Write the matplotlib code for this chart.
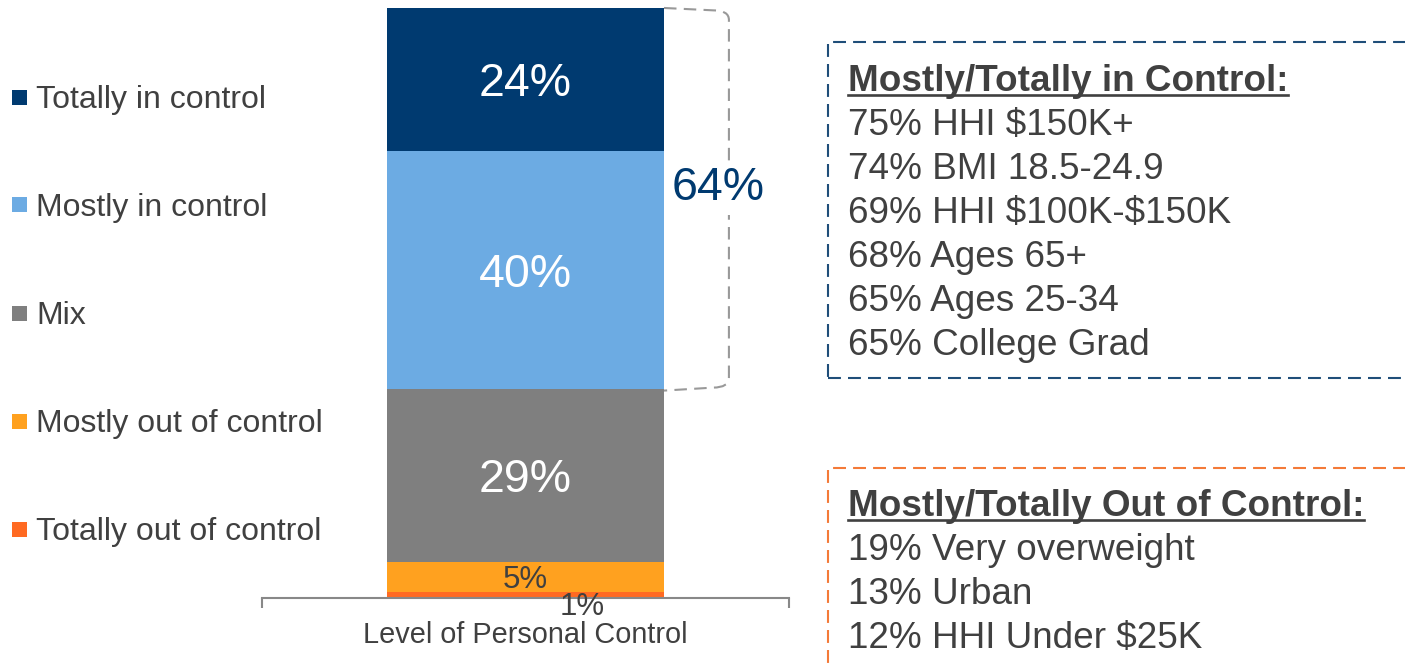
import matplotlib
matplotlib.use("Agg")
import matplotlib.pyplot as plt
from matplotlib.patches import Rectangle, PathPatch
from matplotlib.path import Path
from matplotlib.lines import Line2D

plt.rcParams['font.family'] = ['Liberation Sans', 'DejaVu Sans']
plt.rcParams['text.parse_math'] = False

# ---------------- data ----------------
categories = ["Level of Personal Control"]
series_names = ["Totally out of control", "Mostly out of control", "Mix",
                "Mostly in control", "Totally in control"]
series_values = [1, 5, 29, 40, 24]
series_colors = ["#FF6A22", "#FFA11F", "#7F7F7F", "#6CABE3", "#003A70"]
label_colors = ["#404040", "#404040", "white", "white", "white"]

in_control_title = "Mostly/Totally in Control:"
in_control_items = ["75% HHI $150K+", "74% BMI 18.5-24.9", "69% HHI $100K-$150K",
                    "68% Ages 65+", "65% Ages 25-34", "65% College Grad"]
out_control_title = "Mostly/Totally Out of Control:"
out_control_items = ["19% Very overweight", "13% Urban", "12% HHI Under $25K"]

# ---------------- figure ----------------
W, H = 1405, 668
DARK = "#404040"
CAP = 0.716  # cap height / em for Liberation Sans
fig = plt.figure(figsize=(W / 100, H / 100), dpi=100)


def fx(px):
    return px / W


def fy(py):
    return 1 - py / H


AX_BOTTOM = 598.0
AX_PXH = 596.0  # pixels for 100 %
ax = fig.add_axes([fx(262), fy(AX_BOTTOM), 527 / W, AX_PXH / H])
ax.set_xlim(-0.5, 0.5)
ax.set_ylim(0, 100)


def ctext(x, y, s, fs, **kw):
    """text visually centred (cap height) on (x, y) in data coords"""
    return ax.annotate(s, (x, y), xytext=(0, -CAP * fs / 2), textcoords="offset points",
                       ha="center", va="baseline", fontsize=fs, annotation_clip=False, **kw)


bar_w = 0.5256
xpos = list(range(len(categories)))
bottom = 0
for name, val, col, lcol in zip(series_names, series_values, series_colors, label_colors):
    ax.bar(xpos, [val], bottom=bottom, width=bar_w, color=col, label=name, zorder=2)
    if val >= 5:
        ctext(xpos[0], bottom + val / 2, f"{val}%", 33.5 if val > 5 else 22.5,
              color=lcol, zorder=4)
    else:
        ctext(xpos[0] + 0.107, bottom - 0.9, f"{val}%", 22.5, color=lcol, zorder=4)
    bottom += val

# bracket around the top two segments
ytop = sum(series_values)
ybot = sum(series_values[:3])
xr = bar_w / 2
xb = 0.386
verts = [(xr, ytop), (xb - 0.03, ytop - 0.4),
         (xb, ytop - 0.4), (xb, ytop - 2.0),
         (xb, ybot + 2.0),
         (xb, ybot + 0.3), (xb - 0.03, ybot + 0.3),
         (xr, ybot - 0.2)]
codes = [Path.MOVETO, Path.LINETO, Path.CURVE3, Path.CURVE3, Path.LINETO,
         Path.CURVE3, Path.CURVE3, Path.LINETO]
ax.add_patch(PathPatch(Path(verts, codes), fill=False, edgecolor="#999999",
                       lw=1.5, linestyle=(0, (6, 3.5)), clip_on=False, zorder=1))
top_total = series_values[3] + series_values[4]
ctext(0.365, 69.5, f"{top_total}%", 33.5, color="#003A70", zorder=5,
      bbox=dict(fc="white", ec="none", pad=3))

# axes styling
for s in ["left", "right", "top"]:
    ax.spines[s].set_visible(False)
ax.spines["bottom"].set_color("#888888")
ax.spines["bottom"].set_linewidth(1.5)
ax.set_yticks([])
ax.set_xticks(xpos)
ax.set_xticklabels(categories, fontsize=20.8, color=DARK)
ax.tick_params(axis="x", which="major", length=0, pad=16.5)
ax.set_xticks([-0.5, 0.5], minor=True)
ax.tick_params(axis="x", which="minor", length=7.5, width=1.5, color="#888888",
               direction="out")

# legend (manual, top to bottom = reversed stacking order)
LEG_FS = 23
for i, (name, col) in enumerate(zip(series_names[::-1], series_colors[::-1])):
    yc = 97 + i * 108
    fig.patches.append(Rectangle((fx(12), fy(yc + 7.5)), 15 / W, 15 / H,
                                 transform=fig.transFigure, facecolor=col,
                                 edgecolor="none"))
    fig.text(fx(36), fy(yc + CAP * LEG_FS / 0.72 / 2), name, fontsize=LEG_FS,
             color=DARK, va="baseline", ha="left")

# text boxes
fig.patches.append(Rectangle((fx(828), fy(378)), (1450 - 828) / W, (378 - 42) / H,
                             transform=fig.transFigure, fill=False,
                             edgecolor="#1F4E79", lw=1.5, linestyle=(0, (6.2, 3.4))))
fig.patches.append(Rectangle((fx(828), fy(720)), (1450 - 828) / W, (720 - 468) / H,
                             transform=fig.transFigure, fill=False,
                             edgecolor="#F47A38", lw=1.5, linestyle=(0, (6.2, 3.4))))


def text_block(title, items, base_y):
    t = fig.text(fx(848), fy(base_y), title, fontsize=26.6, fontweight="bold",
                 color=DARK, va="baseline", ha="left")
    for i, it in enumerate(items):
        fig.text(fx(848), fy(base_y + 44 * (i + 1)), it, fontsize=26.6,
                 color=DARK, va="baseline", ha="left")
    return t


t1 = text_block(in_control_title, in_control_items, 91)
t2 = text_block(out_control_title, out_control_items, 516)

fig.canvas.draw()
r = fig.canvas.get_renderer()
for t, by in [(t1, 91), (t2, 516)]:
    bb = t.get_window_extent(r)
    fig.lines.append(Line2D([bb.x0 / W, bb.x1 / W], [fy(by + 4), fy(by + 4)],
                            transform=fig.transFigure, color=DARK, lw=1.9))

fig.savefig("out.png", dpi=100)
